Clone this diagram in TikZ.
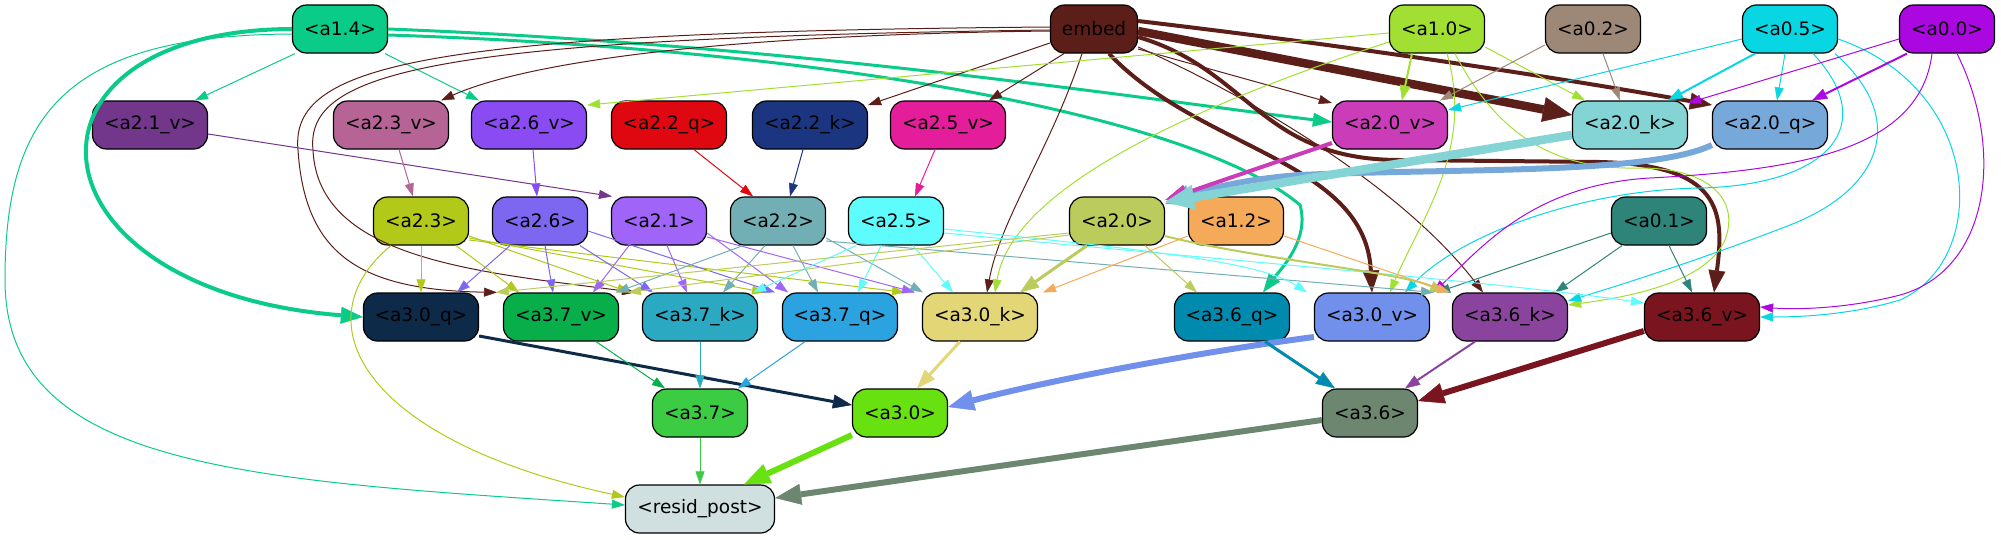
\documentclass[tikz,border=0pt]{standalone}
\usepackage{fontspec}
\setmainfont{DejaVu Sans}
\usetikzlibrary{arrows.meta}
\definecolor{cA14}{HTML}{0BCB89}
\definecolor{cEmb}{HTML}{5C1E19}
\definecolor{cA10}{HTML}{A1E032}
\definecolor{cA02}{HTML}{9D8878}
\definecolor{cA05}{HTML}{08D7E3}
\definecolor{cA00}{HTML}{AB08E1}
\definecolor{cA21v}{HTML}{72368B}
\definecolor{cA23v}{HTML}{B56495}
\definecolor{cA26v}{HTML}{8A4CF2}
\definecolor{cA22q}{HTML}{E00810}
\definecolor{cA22k}{HTML}{1C3580}
\definecolor{cA25v}{HTML}{E41D9A}
\definecolor{cA20v}{HTML}{CB3CB8}
\definecolor{cA20k}{HTML}{84D3D5}
\definecolor{cA20q}{HTML}{76A9DA}
\definecolor{cA23}{HTML}{B2C919}
\definecolor{cA26}{HTML}{7D66F0}
\definecolor{cA21}{HTML}{A064F9}
\definecolor{cA22}{HTML}{72AFB4}
\definecolor{cA25}{HTML}{5EFCFC}
\definecolor{cA20}{HTML}{BBCB5C}
\definecolor{cA12}{HTML}{F4AA58}
\definecolor{cA01}{HTML}{2E8479}
\definecolor{cA30q}{HTML}{0D2A48}
\definecolor{cA37v}{HTML}{07AE4A}
\definecolor{cA37k}{HTML}{2BA8C2}
\definecolor{cA37q}{HTML}{2AA3E0}
\definecolor{cA30k}{HTML}{E2D676}
\definecolor{cA36q}{HTML}{008AAE}
\definecolor{cA30v}{HTML}{7090EC}
\definecolor{cA36k}{HTML}{8B449E}
\definecolor{cA36v}{HTML}{7A141F}
\definecolor{cA37}{HTML}{3CCC44}
\definecolor{cA30}{HTML}{68E110}
\definecolor{cA36}{HTML}{6D8670}
\definecolor{cRes}{HTML}{D0E0E0}
\begin{document}
\begin{tikzpicture}[x=1pt,y=-1pt,
  nd/.style={draw=black, line width=1.2pt, rounded corners=14pt, minimum height=48pt, inner sep=0pt, font=\fontsize{18.5}{20}\selectfont, text=black},
  nS/.style={minimum width=95pt},
  nM/.style={minimum width=115pt},
  lwA/.style={line width=1pt, -{Triangle[length=13pt,width=9pt,line width=0.5pt]}},
  lwB/.style={line width=2pt, -{Triangle[length=15pt,width=11pt,line width=0.5pt]}},
  lwC/.style={line width=3pt, -{Triangle[length=19pt,width=14pt,line width=0.5pt]}},
  lwD/.style={line width=4pt, -{Triangle[length=22pt,width=17pt,line width=0.5pt]}},
  lwE/.style={line width=6pt, -{Triangle[length=26pt,width=21pt,line width=0.5pt]}},
  lwF/.style={line width=8.5pt, -{Triangle[length=29pt,width=25pt,line width=0.5pt]}}
]
\useasboundingbox (0,0) rectangle (2001,539);
% row 1
\node[nd,nS,fill=cA14] (a14) at (340,29) {<a1.4>};
\node[nd,minimum width=87pt,fill=cEmb] (embed) at (1094,29) {embed};
\node[nd,nS,fill=cA10] (a10) at (1437,29) {<a1.0>};
\node[nd,nS,fill=cA02] (a02) at (1593,29) {<a0.2>};
\node[nd,nS,fill=cA05] (a05) at (1790,29) {<a0.5>};
\node[nd,nS,fill=cA00] (a00) at (1947,29) {<a0.0>};
% row 2
\node[nd,nM,fill=cA21v] (a21v) at (150,125) {<a2.1\_v>};
\node[nd,nM,fill=cA23v] (a23v) at (391,125) {<a2.3\_v>};
\node[nd,nM,fill=cA26v] (a26v) at (529,125) {<a2.6\_v>};
\node[nd,nM,fill=cA22q] (a22q) at (669,125) {<a2.2\_q>};
\node[nd,nM,fill=cA22k] (a22k) at (810,125) {<a2.2\_k>};
\node[nd,nM,fill=cA25v] (a25v) at (948,125) {<a2.5\_v>};
\node[nd,nM,fill=cA20v] (a20v) at (1390,125) {<a2.0\_v>};
\node[nd,nM,fill=cA20k] (a20k) at (1630,125) {<a2.0\_k>};
\node[nd,nM,fill=cA20q] (a20q) at (1770,125) {<a2.0\_q>};
% row 3
\node[nd,nS,fill=cA23] (a23) at (421,221) {<a2.3>};
\node[nd,nS,fill=cA26] (a26) at (540,221) {<a2.6>};
\node[nd,nS,fill=cA21] (a21) at (659,221) {<a2.1>};
\node[nd,nS,fill=cA22] (a22) at (778,221) {<a2.2>};
\node[nd,nS,fill=cA25] (a25) at (896,221) {<a2.5>};
\node[nd,nS,fill=cA20] (a20) at (1117,221) {<a2.0>};
\node[nd,nS,fill=cA12] (a12) at (1236,221) {<a1.2>};
\node[nd,nS,fill=cA01] (a01) at (1659,221) {<a0.1>};
% row 4
\node[nd,nM,fill=cA30q] (a30q) at (421,317) {<a3.0\_q>};
\node[nd,nM,fill=cA37v] (a37v) at (561,317) {<a3.7\_v>};
\node[nd,nM,fill=cA37k] (a37k) at (700,317) {<a3.7\_k>};
\node[nd,nM,fill=cA37q] (a37q) at (840,317) {<a3.7\_q>};
\node[nd,nM,fill=cA30k] (a30k) at (980,317) {<a3.0\_k>};
\node[nd,nM,fill=cA36q] (a36q) at (1232,317) {<a3.6\_q>};
\node[nd,nM,fill=cA30v] (a30v) at (1372,317) {<a3.0\_v>};
\node[nd,nM,fill=cA36k] (a36k) at (1510,317) {<a3.6\_k>};
\node[nd,nM,fill=cA36v] (a36v) at (1702,317) {<a3.6\_v>};
% row 5, 6
\node[nd,nS,fill=cA37] (a37) at (700,413) {<a3.7>};
\node[nd,nS,fill=cA30] (a30) at (900,413) {<a3.0>};
\node[nd,nS,fill=cA36] (a36) at (1370,413) {<a3.6>};
\node[nd,minimum width=149pt,fill=cRes] (resid) at (700,509) {<resid\_post>};

% ---- a1.4
\draw[lwA,cA14] ([xshift=-45pt]a14.south) -- ([xshift=45pt]a21v.north);
\draw[lwA,cA14] ([xshift=45pt]a14.south) -- ([xshift=-50pt]a26v.north);
\draw[lwD,cA14] (a14.west) .. controls (0,30) and (20,290) .. (a30q.west);
\draw[lwA,cA14] ([yshift=-5pt]a14.west) .. controls (60,35) and (5,120) .. (5,280) .. controls (5,470) and (250,480) .. ([yshift=4pt]resid.west);
\draw[lwC,cA14] (a14.east) .. controls (800,45) and (1150,100) .. ([yshift=3pt]a20v.west);
\draw[lwC,cA14] ([yshift=-6pt]a14.east) .. controls (850,50) and (1200,120) .. (1300,205) .. controls (1310,240) and (1280,270) .. ([xshift=31pt]a36q.north);
% ---- embed
\draw[lwA,cEmb] ([yshift=-2pt]embed.west) .. controls (700,35) and (520,65) .. ([xshift=-8pt]a23v.north east);
\draw[lwA,cEmb] ([yshift=2pt]embed.west) .. controls (420,32) and (290,65) .. (298,150) .. controls (305,255) and (360,290) .. ([xshift=-64pt]a37v.north);
\draw[lwA,cEmb] ([yshift=-1pt]embed.west) .. controls (430,38) and (305,72) .. (313,150) .. controls (318,260) and (480,272) .. ([xshift=-65pt]a37k.north);
\draw[lwA,cEmb] ([yshift=-14pt]embed.west) -- ([yshift=20pt]a22k.east);
\draw[lwA,cEmb] ([xshift=-30pt]embed.south) -- ([xshift=41pt]a25v.north);
\draw[lwA,cEmb] ([xshift=-12pt]embed.south) .. controls (1050,150) and (1000,220) .. ([xshift=7pt]a30k.north);
\draw[lwA,cEmb] ([yshift=-20pt]embed.east) -- ([yshift=22pt]a20v.west);
\draw[lwF,cEmb] ([yshift=-2pt]embed.east) -- ([yshift=10pt]a20k.west);
\draw[lwD,cEmb] ([yshift=8pt]embed.east) .. controls (1400,52) and (1600,85) .. ([yshift=20pt]a20q.west);
\draw[lwD,cEmb] ([xshift=15pt]embed.south) .. controls (1200,150) and (1365,160) .. (a30v.north);
\draw[lwD,cEmb] ([yshift=-8pt]embed.east) .. controls (1250,70) and (1260,160) .. (1400,160) -- (1600,162) .. controls (1720,165) and (1725,210) .. ([xshift=12pt]a36v.north);
\draw[lwA,cEmb] ([yshift=-18pt]embed.east) .. controls (1300,120) and (1420,210) .. ([xshift=-27pt]a36k.north);
% ---- a1.0
\draw[lwA,cA10] ([yshift=-4pt]a10.west) -- ([yshift=20pt]a26v.east);
\draw[lwB,cA10] ([xshift=-25pt]a10.south) -- ([xshift=12pt]a20v.north);
\draw[lwA,cA10] ([yshift=-18pt]a10.east) -- ([xshift=-45pt]a20k.north);
\draw[lwA,cA10] ([yshift=-13pt]a10.west) .. controls (1150,120) and (1010,200) .. ([xshift=15pt]a30k.north);
\draw[lwA,cA10] ([xshift=10pt]a10.south) .. controls (1475,150) and (1420,220) .. ([xshift=18pt]a30v.north);
\draw[lwA,cA10] ([xshift=18pt]a10.south) .. controls (1500,140) and (1560,170) .. (1640,168) .. controls (1710,168) and (1740,200) .. (1725,240) .. controls (1705,285) and (1620,298) .. ([yshift=12pt]a36k.east);
% ---- a0.2
\draw[lwA,cA02] ([yshift=-16pt]a02.west) -- ([xshift=50pt]a20v.north);
\draw[lwA,cA02] ([xshift=10pt]a02.south) -- ([xshift=-10pt]a20k.north);
% ---- a0.5
\draw[lwA,cA05] ([yshift=-10pt]a05.west) -- ([yshift=15pt]a20v.east);
\draw[lwB,cA05] ([xshift=-35pt]a05.south) -- ([xshift=38pt]a20k.north);
\draw[lwA,cA05] ([xshift=-5pt]a05.south) -- ([xshift=7pt]a20q.north);
\draw[lwA,cA05] ([xshift=23pt]a05.south) .. controls (1880,125) and (1830,185) .. (1700,188) .. controls (1580,190) and (1460,235) .. ([xshift=33pt]a30v.north);
\draw[lwA,cA05] ([xshift=45pt]a05.south) .. controls (1910,120) and (1880,190) .. (1790,225) .. controls (1700,260) and (1620,285) .. ([yshift=16pt]a36k.east);
\draw[lwA,cA05] ([yshift=-10pt]a05.east) .. controls (1985,90) and (1990,260) .. (1900,300) .. controls (1850,315) and (1800,317) .. (a36v.east);
% ---- a0.0
\draw[lwA,cA00] ([yshift=-10pt]a00.west) -- ([yshift=22pt]a20k.east);
\draw[lwB,cA00] ([xshift=-40pt]a00.south) -- ([xshift=42pt]a20q.north);
\draw[lwA,cA00] ([xshift=-15pt]a00.south) .. controls (1920,150) and (1800,170) .. (1650,178) .. controls (1530,185) and (1480,250) .. ([xshift=61pt]a30v.north);
\draw[lwA,cA00] ([xshift=10pt]a00.south) .. controls (2005,150) and (1990,270) .. (1900,295) .. controls (1850,308) and (1800,310) .. ([yshift=10pt]a36v.east);
% ---- a0.1
\draw[lwA,cA01] ([yshift=-12pt]a01.west) -- ([xshift=65pt]a30v.north);
\draw[lwA,cA01] ([xshift=-37pt]a01.south) -- ([xshift=45pt]a36k.north);
\draw[lwA,cA01] ([xshift=10pt]a01.south) -- ([xshift=-10pt]a36v.north);
% ---- row 2 -> row 3
\draw[lwA,cA21v] ([yshift=-9pt]a21v.east) -- ([xshift=-47pt]a21.north);
\draw[lwA,cA23v] ([xshift=8pt]a23v.south) -- ([xshift=-8pt]a23.north);
\draw[lwA,cA26v] ([xshift=4pt]a26v.south) -- ([xshift=-3pt]a26.north);
\draw[lwA,cA22q] ([xshift=25pt]a22q.south) -- ([xshift=-25pt]a22.north);
\draw[lwA,cA22k] ([xshift=-7pt]a22k.south) -- ([xshift=12pt]a22.north);
\draw[lwA,cA25v] ([xshift=-13pt]a25v.south) -- ([xshift=19pt]a25.north);
\draw[lwE,cA20q] ([yshift=-20pt]a20q.west) .. controls (1650,175) and (1450,168) .. (1300,175) .. controls (1230,180) and (1190,195) .. ([yshift=17pt]a20.east);
\draw[lwD,cA20v] ([yshift=-18pt]a20v.west) -- ([yshift=21pt]a20.east);
\draw[lwF,cA20k] ([yshift=-10pt]a20k.west) -- ([yshift=19pt]a20.east);
% ---- a2.3
\draw[lwA,cA23] (a23.south) -- (a30q.north);
\draw[lwA,cA23] ([xshift=35pt]a23.south) -- ([xshift=-42pt]a37v.north);
\draw[lwA,cA23] ([yshift=-15pt]a23.east) -- ([xshift=-70pt]a37k.north);
\draw[lwA,cA23] ([yshift=-17pt]a23.east) -- ([xshift=-75pt]a37q.north);
\draw[lwA,cA23] ([yshift=-19pt]a23.east) -- ([xshift=-75pt]a30k.north);
\draw[lwA,cA23] ([xshift=-30pt]a23.south) .. controls (300,320) and (360,440) .. ([yshift=12pt]resid.west);
% ---- a2.6
\draw[lwA,cA26] ([xshift=-30pt]a26.south) -- ([xshift=36pt]a30q.north);
\draw[lwA,cA26] ([xshift=5pt]a26.south) -- ([xshift=-8pt]a37v.north);
\draw[lwA,cA26] ([xshift=40pt]a26.south) -- ([xshift=-47pt]a37k.north);
\draw[lwA,cA26] ([yshift=-10pt]a26.east) -- ([xshift=-65pt]a37q.north);
% ---- a2.1
\draw[lwA,cA21] ([xshift=-30pt]a21.south) -- ([xshift=32pt]a37v.north);
\draw[lwA,cA21] ([xshift=8pt]a21.south) -- ([xshift=-13pt]a37k.north);
\draw[lwA,cA21] ([yshift=-12pt]a21.east) -- ([xshift=-52pt]a37q.north);
\draw[lwA,cA21] ([yshift=-16pt]a21.east) -- ([xshift=-65pt]a30k.north);
% ---- a2.2
\draw[lwA,cA22] ([xshift=-35pt]a22.south) -- ([xshift=55pt]a37v.north);
\draw[lwA,cA22] ([xshift=-13pt]a22.south) -- ([xshift=23pt]a37k.north);
\draw[lwA,cA22] ([xshift=15pt]a22.south) -- ([xshift=-22pt]a37q.north);
\draw[lwA,cA22] ([yshift=-17pt]a22.east) -- ([xshift=-57pt]a30k.north);
\draw[lwA,cA22] ([yshift=-20pt]a22.east) -- ([xshift=62pt]a30v.north);
% ---- a2.5
\draw[lwA,cA25] ([xshift=-40pt]a25.south) -- ([xshift=53pt]a37k.north);
\draw[lwA,cA25] ([xshift=-15pt]a25.south) -- ([xshift=18pt]a37q.north);
\draw[lwA,cA25] ([xshift=17pt]a25.south) -- ([xshift=-27pt]a30k.north);
\draw[lwA,cA25] ([yshift=-8pt]a25.east) .. controls (1150,250) and (1260,262) .. ([xshift=-65pt]a30v.north);
\draw[lwA,cA25] ([yshift=-12pt]a25.east) .. controls (1200,258) and (1500,282) .. ([yshift=14pt]a36v.west);
% ---- a2.0
\draw[lwC,cA20] ([xshift=-30pt]a20.south) -- ([xshift=40pt]a30k.north);
\draw[lwA,cA20] ([yshift=-12pt]a20.west) -- ([xshift=-65pt]a37v.north);
\draw[lwA,cA20] ([yshift=-14pt]a20.west) -- ([xshift=-72pt]a37k.north);
\draw[lwA,cA20] ([xshift=28pt]a20.south) -- ([xshift=-35pt]a36q.north);
\draw[lwB,cA20] ([yshift=-15pt]a20.east) .. controls (1250,258) and (1400,272) .. ([xshift=-65pt]a36k.north);
% ---- a1.2
\draw[lwA,cA12] ([yshift=-15pt]a12.west) -- ([xshift=63pt]a30k.north);
\draw[lwA,cA12] ([yshift=-15pt]a12.east) -- ([xshift=-60pt]a36k.north);
% ---- row 4 -> row 5
\draw[lwC,cA30q] ([yshift=-19pt]a30q.east) -- ([yshift=8pt]a30.west);
\draw[lwA,cA37v] ([xshift=35pt]a37v.south) -- ([xshift=-35pt]a37.north);
\draw[lwA,cA37k] (a37k.south) -- (a37.north);
\draw[lwA,cA37q] ([xshift=-35pt]a37q.south) -- ([xshift=38pt]a37.north);
\draw[lwC,cA30k] ([xshift=-20pt]a30k.south) -- ([xshift=17pt]a30.north);
\draw[lwE,cA30v] ([yshift=-20pt]a30v.west) .. controls (1200,352) and (1050,380) .. ([yshift=6pt]a30.east);
\draw[lwC,cA36q] ([xshift=33pt]a36q.south) -- ([xshift=-35pt]a36.north);
\draw[lwB,cA36k] ([xshift=-35pt]a36k.south) -- ([xshift=35pt]a36.north);
\draw[lwE,cA36v] ([yshift=-14pt]a36v.west) -- ([yshift=12pt]a36.east);
% ---- to resid_post
\draw[lwA,cA37] (a37.south) -- (resid.north);
\draw[lwE,cA30] ([yshift=-22pt]a30.west) -- ([xshift=44pt]resid.north);
\draw[lwE,cA36] ([yshift=-7pt]a36.west) -- ([yshift=11pt]resid.east);
\end{tikzpicture}
\end{document}
